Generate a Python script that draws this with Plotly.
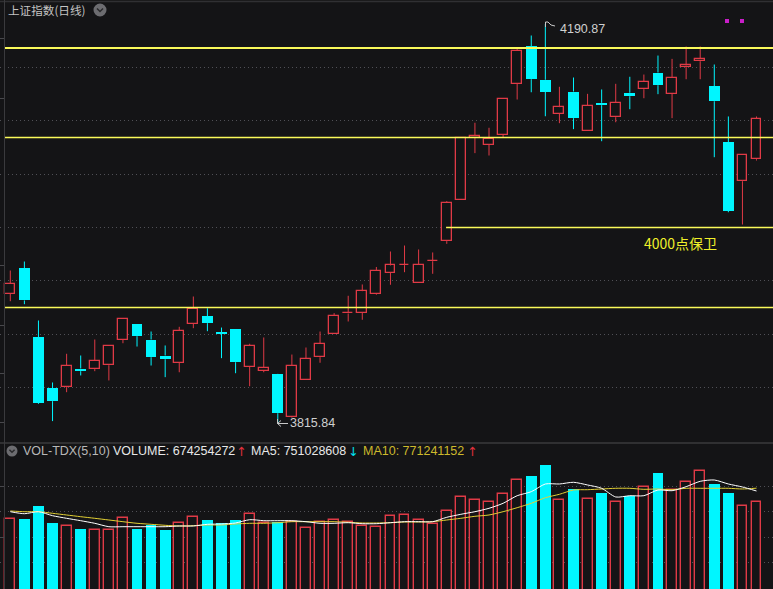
import plotly.graph_objects as go

# ---------------- data ----------------
days = list(range(54))

opens = [3937.8, 3961.6, 3896.9, 3849.1, 3850.3, 3867.8, 3867.2, 3870.9, 3894.7, 3909.1,
         3895.0, 3880.0, 3873.2, 3909.7, 3916.6, 3901.6, 3904.4, 3869.4, 3865.6, 3862.2,
         3822.2, 3857.2, 3878.4, 3900.3, 3919.4, 3920.0, 3937.8, 3957.5, 3964.7, 3947.8,
         3968.4, 3987.2, 4026.0, 4084.1, 4077.5, 4086.9, 4134.7, 4169.7, 4138.5, 4106.6,
         4127.5, 4090.7, 4116.9, 4103.4, 4126.3, 4129.7, 4145.3, 4125.3, 4150.3, 4155.9,
         4132.2, 4079.7, 4043.4, 4064.0]
closes = [3947.2, 3931.6, 3835.3, 3837.2, 3870.3, 3865.3, 3875.0, 3889.1, 3914.4, 3898.1,
          3878.4, 3876.5, 3903.2, 3923.8, 3910.3, 3900.6, 3873.7, 3889.1, 3868.7, 3825.9,
          3870.3, 3876.9, 3890.9, 3917.2, 3920.3, 3940.3, 3959.2, 3964.4, 3965.3, 3965.0,
          3968.8, 4023.2, 4084.1, 4086.2, 4083.2, 4120.7, 4165.9, 4139.0, 4127.2, 4112.8,
          4102.5, 4114.1, 4114.7, 4116.9, 4123.1, 4136.6, 4133.4, 4140.3, 4151.9, 4158.1,
          4118.4, 4015.9, 4068.2, 4101.9]
highs = [3959.7, 3968.1, 3912.8, 3854.7, 3881.6, 3880.0, 3895.0, 3889.4, 3914.4, 3909.1,
         3902.5, 3889.4, 3906.9, 3935.3, 3924.3, 3906.2, 3904.4, 3891.0, 3896.9, 3862.8,
         3880.9, 3887.5, 3902.5, 3919.7, 3936.0, 3946.6, 3963.0, 3977.5, 3983.1, 3979.4,
         3976.6, 4024.7, 4084.1, 4098.2, 4093.5, 4120.7, 4167.5, 4180.0, 4190.87, 4131.9,
         4140.6, 4125.3, 4129.4, 4134.7, 4141.3, 4143.4, 4161.2, 4158.1, 4169.7, 4169.7,
         4152.8, 4104.1, 4068.2, 4104.1]
lows = [3930.9, 3928.1, 3834.5, 3818.5, 3845.6, 3861.3, 3865.3, 3856.6, 3891.5, 3888.4,
        3870.6, 3859.7, 3864.3, 3905.6, 3902.8, 3877.5, 3863.4, 3851.2, 3864.3, 3815.84,
        3821.6, 3857.2, 3873.2, 3900.3, 3911.9, 3913.5, 3937.0, 3946.3, 3958.1, 3947.8,
        3956.6, 3984.7, 4026.0, 4069.7, 4067.5, 4084.7, 4120.0, 4126.8, 4104.3, 4097.8,
        4092.2, 4090.7, 4080.9, 4098.7, 4110.9, 4121.2, 4125.0, 4102.5, 4139.0, 4139.0,
        4065.9, 4014.3, 4002.8, 4062.8]

# volume in millions of shares
volume_m = [549.4, 549.4, 643.0, 520.6, 499.0, 477.4, 468.0, 468.0, 554.4, 477.4,
            506.0, 470.0, 518.4, 563.8, 542.0, 518.4, 542.0, 583.2, 518.4, 525.6,
            530.0, 482.4, 530.0, 540.0, 525.6, 499.0, 491.8, 568.8, 576.0, 540.0,
            513.4, 604.8, 705.6, 684.0, 669.6, 727.2, 828.0, 859.0, 938.2, 684.0,
            765.4, 693.4, 736.6, 669.6, 712.8, 777.6, 880.6, 758.2, 813.6, 895.0,
            801.4, 736.6, 640.8, 674.254272]
ma5_m = [602.0, 587.5, 602.0, 573.1, 554.4, 537.1, 518.4, 493.9, 493.9, 493.9,
         493.9, 493.9, 499.0, 499.0, 511.2, 513.4, 520.6, 544.3, 537.1, 537.1,
         537.1, 530.0, 518.4, 518.4, 522.7, 515.5, 515.5, 522.7, 530.0, 530.0,
         530.0, 561.6, 583.2, 602.0, 626.4, 662.4, 717.1, 745.9, 801.4, 801.4,
         813.6, 794.2, 770.4, 707.8, 717.1, 717.1, 758.2, 753.1, 782.0, 820.8,
         830.2, 801.4, 779.8, 751.028608]
ma10_m = [607.0, 602.0, 602.0, 590.4, 578.2, 566.0, 554.4, 542.2, 530.0, 518.4,
          511.2, 504.0, 499.0, 501.1, 506.2, 506.2, 513.4, 518.4, 518.4, 522.7,
          530.0, 530.0, 530.0, 530.0, 525.6, 520.6, 520.6, 522.7, 527.8, 527.8,
          530.0, 542.2, 554.4, 568.8, 578.2, 602.0, 630.7, 662.4, 702.7, 727.2,
          758.2, 760.3, 765.4, 770.4, 770.4, 763.2, 765.4, 760.3, 770.4, 770.4,
          770.4, 770.4, 765.4, 771.241152]

header_volume = "674254272"
header_ma5 = "751028608"
header_ma10 = "771241152"

support_levels = [4168.3, 4084.4, 3925.0]
guard_level = 4000.0
guard_start_day = 30.95
price_grid = [3850, 3900, 3950, 4000, 4050, 4100, 4150]
vol_grid = [236.2, 416.2, 603.4, 783.4]
peak_label = "4190.87"
trough_label = "3815.84"

# ---------------- styles ----------------
BG = "#141416"
RED = "#e03a46"
CYAN = "#00f6ff"
YELLOW = "#fafa5a"
W, H = 773, 589

up = [c >= o for o, c in zip(opens, closes)]

fig = go.Figure()


# wicks (split above / below body so they never cross hollow bodies)
def wick_xy(flag):
    xs, ys = [], []
    for d, o, h, l, c, u in zip(days, opens, highs, lows, closes, up):
        if u != flag:
            continue
        top, bot = max(o, c), min(o, c)
        if h > top:
            xs += [d, d, None]; ys += [top, h, None]
        if l < bot:
            xs += [d, d, None]; ys += [bot, l, None]
    return xs, ys


for flag, col in [(True, RED), (False, CYAN)]:
    xs, ys = wick_xy(flag)
    fig.add_trace(go.Scatter(x=xs, y=ys, mode="lines", line=dict(color=col, width=1),
                             hoverinfo="skip", xaxis="x", yaxis="y"))

# bodies
up_d = [d for d, u in zip(days, up) if u]
dn_d = [d for d, u in zip(days, up) if not u]
up_base = [min(o, c) for o, c, u in zip(opens, closes, up) if u]
up_h = [max(abs(c - o), 0.6) for o, c, u in zip(opens, closes, up) if u]
dn_base = [min(o, c) for o, c, u in zip(opens, closes, up) if not u]
dn_h = [max(abs(c - o), 1.0) for o, c, u in zip(opens, closes, up) if not u]

fig.add_trace(go.Bar(x=up_d, y=up_h, base=up_base, width=0.7,
                     marker=dict(color=BG, line=dict(color=RED, width=1.3)),
                     xaxis="x", yaxis="y", hoverinfo="skip"))
fig.add_trace(go.Bar(x=dn_d, y=dn_h, base=dn_base, width=0.76,
                     marker=dict(color=CYAN, line=dict(width=0)),
                     xaxis="x", yaxis="y", hoverinfo="skip"))

# volume bars
fig.add_trace(go.Bar(x=up_d, y=[v for v, u in zip(volume_m, up) if u], width=0.7,
                     marker=dict(color=BG, line=dict(color=RED, width=1.4)),
                     xaxis="x2", yaxis="y2", hoverinfo="skip"))
fig.add_trace(go.Bar(x=dn_d, y=[v for v, u in zip(volume_m, up) if not u], width=0.76,
                     marker=dict(color=CYAN, line=dict(width=0)),
                     xaxis="x2", yaxis="y2", hoverinfo="skip"))

# moving averages
fig.add_trace(go.Scatter(x=days, y=ma10_m, mode="lines",
                         line=dict(color="#e2d034", width=1, shape="spline", smoothing=0.7),
                         xaxis="x2", yaxis="y2", hoverinfo="skip"))
fig.add_trace(go.Scatter(x=days, y=ma5_m, mode="lines",
                         line=dict(color="#ffffff", width=1, shape="spline", smoothing=0.7),
                         xaxis="x2", yaxis="y2", hoverinfo="skip"))

# ---------------- layout ----------------
x_range = [-0.7315, 54.17]
main_dom = [1 - 440 / H, 1]
vol_dom = [0, 1 - 455 / H]

shapes = []
for i, lv in enumerate(support_levels):
    shapes.append(dict(type="line", xref="paper", yref="y", x0=4 / W, x1=1, y0=lv, y1=lv,
                       line=dict(color=YELLOW, width=2 if i == 0 else 1.5)))
shapes.append(dict(type="line", xref="x", yref="y", x0=guard_start_day, x1=x_range[1],
                   y0=guard_level, y1=guard_level, line=dict(color=YELLOW, width=1.5)))


def px(x):
    return x / W


def py(y):
    return 1 - y / H


shapes += [
    dict(type="line", xref="paper", yref="paper", x0=0, x1=1, y0=py(1.5), y1=py(1.5),
         line=dict(color="#303033", width=1.5)),
    dict(type="line", xref="paper", yref="paper", x0=0, x1=1, y0=py(443), y1=py(443),
         line=dict(color="#3a3a3d", width=1.5)),
    dict(type="line", xref="paper", yref="paper", x0=px(4.5), x1=px(4.5), y0=0, y1=1,
         line=dict(color="#3a3a3d", width=1)),
]
for ty in [38.5, 98.5, 265.5, 325.5, 373.5, 422.5, 486.5, 537.5]:
    shapes.append(dict(type="line", xref="paper", yref="paper", x0=0, x1=px(4),
                       y0=py(ty), y1=py(ty), line=dict(color="#48484c", width=1)))


def circle(cx, cy, r, col):
    return dict(type="circle", xref="paper", yref="paper", x0=px(cx - r), x1=px(cx + r),
                y0=py(cy + r), y1=py(cy - r), fillcolor=col, line=dict(width=0))


shapes.append(circle(100, 10, 6.5, "#6c6c70"))
shapes.append(circle(12, 451, 5.5, "#6c6c70"))


def chevron(cx, cy, s):
    return dict(type="path", xref="paper", yref="paper",
                path=f"M {px(cx - s)} {py(cy - s / 2)} L {px(cx)} {py(cy + s / 2)} L {px(cx + s)} {py(cy - s / 2)}",
                line=dict(color="#2a2a2c", width=1.5))


shapes.append(chevron(100, 10, 3))
shapes.append(chevron(12, 451, 2.6))

for mx in [727, 742]:
    shapes.append(dict(type="rect", xref="paper", yref="paper", x0=px(mx - 2), x1=px(mx + 2),
                       y0=py(23), y1=py(19), fillcolor="#c81ec8", line=dict(width=0)))

shapes.append(dict(type="path", xref="paper", yref="paper",
                   path=f"M {px(545.5)} {py(27)} L {px(545.5)} {py(22)} L {px(548)} {py(22)} "
                        f"L {px(551)} {py(25)} L {px(555)} {py(26)}",
                   line=dict(color="#c8c8c8", width=1)))
shapes.append(dict(type="path", xref="paper", yref="paper",
                   path=f"M {px(277.5)} {py(419)} L {px(277.5)} {py(423.5)} L {px(288)} {py(423.5)} "
                        f"M {px(277.5)} {py(423.5)} L {px(281)} {py(420.5)} "
                        f"M {px(277.5)} {py(423.5)} L {px(281)} {py(426.5)}",
                   line=dict(color="#c8c8c8", width=1)))

NUMF = "Liberation Sans, Arial, sans-serif"
CJKF = "Noto Sans CJK SC, sans-serif"


def label(x, y, text, color, size=12.5, family=NUMF, anchor="left"):
    return dict(xref="paper", yref="paper", x=px(x), y=py(y), text=text, showarrow=False,
                xanchor=anchor, yanchor="middle", font=dict(color=color, size=size, family=family))


annotations = [
    label(6, 10, "上证指数(日线)", "#c4c4c4", 11.6, CJKF),
    label(558, 29, peak_label, "#d0d0d0", 12.5),
    label(288, 423, trough_label, "#d0d0d0", 12.5),
    label(680, 243, "4000点保卫", "#f0f02a", 14, CJKF, "center"),
    label(21, 451, "VOL-TDX(5,10)", "#b8b8b8", 12.5),
    label(111, 451, "VOLUME: " + header_volume, "#e8e8e8", 12.5),
    label(234, 451, "↑", "#e0303c", 12.5, "DejaVu Sans"),
    label(249, 451, "MA5: " + header_ma5, "#e8e8e8", 12.5),
    label(346, 451, "↓", "#00e0f0", 12.5, "DejaVu Sans"),
    label(361, 451, "MA10: " + header_ma10, "#cdb92c", 12.5),
    label(465, 451, "↑", "#e0303c", 12.5, "DejaVu Sans"),
]

axis_common = dict(showticklabels=False, ticks="", zeroline=False, showline=False,
                   fixedrange=True)

fig.update_layout(
    width=W, height=H,
    margin=dict(l=0, r=0, t=0, b=0, pad=0),
    paper_bgcolor=BG, plot_bgcolor=BG,
    showlegend=False, barmode="overlay", bargap=0,
    xaxis=dict(domain=[0, 1], range=x_range, anchor="y", showgrid=False, **axis_common),
    xaxis2=dict(domain=[0, 1], range=x_range, anchor="y2", showgrid=False, **axis_common),
    yaxis=dict(domain=main_dom, range=[3800.78, 4213.28], anchor="x",
               tickvals=price_grid, showgrid=True, gridcolor="#505056", griddash="1px,3px",
               gridwidth=1, **axis_common),
    yaxis2=dict(domain=vol_dom, range=[45.36, 1010.16], anchor="x2",
                tickvals=vol_grid, showgrid=True, gridcolor="#505056", griddash="1px,3px",
                gridwidth=1, **axis_common),
    shapes=shapes,
    annotations=annotations,
)

fig.write_html(
    "out.html",
    config={"displayModeBar": False},
    post_script="document.body.style.margin='0';document.body.style.overflow='hidden';"
                "document.body.style.background='" + BG + "';",
)
